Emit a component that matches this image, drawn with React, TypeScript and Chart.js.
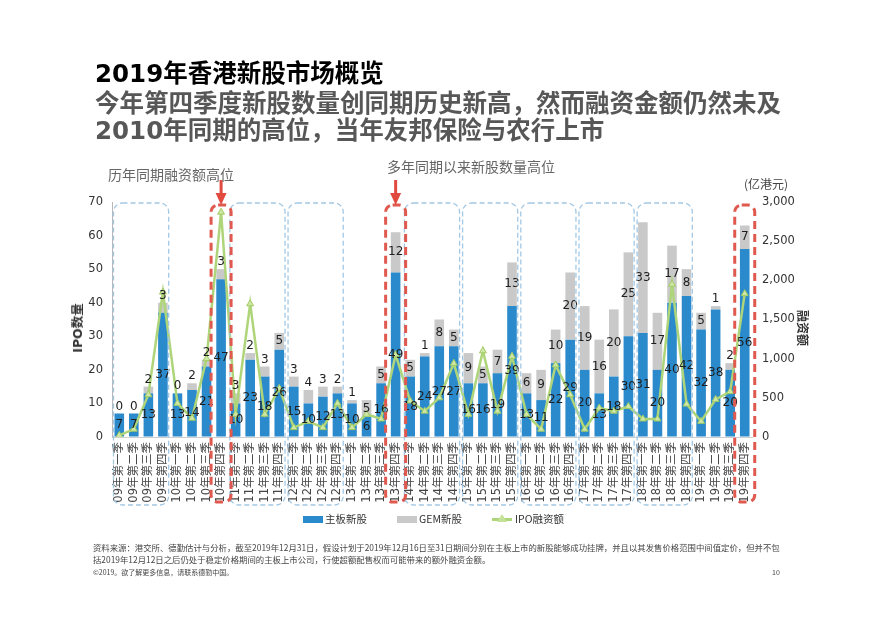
import React, { useEffect, useRef } from 'react';
import { Chart, registerables } from 'chart.js';

Chart.register(...registerables);

const quarterLabels = [
  '09年第一季', '09年第二季', '09年第三季', '09年第四季',
  '10年第一季', '10年第二季', '10年第三季', '10年第四季',
  '11年第一季', '11年第二季', '11年第三季', '11年第四季',
  '12年第一季', '12年第二季', '12年第三季', '12年第四季',
  '13年第一季', '13年第二季', '13年第三季', '13年第四季',
  '14年第一季', '14年第二季', '14年第三季', '14年第四季',
  '15年第一季', '15年第二季', '15年第三季', '15年第四季',
  '16年第一季', '16年第二季', '16年第三季', '16年第四季',
  '17年第一季', '17年第二季', '17年第三季', '17年第四季',
  '18年第一季', '18年第二季', '18年第三季', '18年第四季',
  '19年第一季', '19年第二季', '19年第三季', '19年第四季',
];

const mainBoard = [
  7, 7, 13, 37,
  13, 14, 21, 47,
  10, 23, 18, 26,
  15, 10, 12, 13,
  10, 6, 16, 49,
  18, 24, 27, 27,
  16, 16, 19, 39,
  13, 11, 22, 29,
  20, 13, 18, 30,
  31, 20, 40, 42,
  32, 38, 20, 56,
];

const gemBoard = [
  0, 0, 2, 3,
  0, 2, 2, 3,
  3, 2, 3, 5,
  3, 4, 3, 2,
  1, 5, 5, 12,
  5, 1, 8, 5,
  9, 5, 7, 13,
  6, 9, 10, 20,
  19, 16, 20, 25,
  33, 17, 17, 8,
  5, 1, 2, 7,
];

const ipoAmount = [
  20, 100, 540, 1850,
  430, 240, 1000, 2870,
  290, 1700, 290, 620,
  120, 200, 120, 430,
  120, 290, 230, 1050,
  460, 330, 500, 940,
  290, 1100, 330, 1030,
  290, 100, 920, 540,
  100, 370, 330, 390,
  230, 230, 1950, 420,
  200, 480, 580, 1830,
];

const leftTicks = [0, 10, 20, 30, 40, 50, 60, 70];
const rightTicks = [0, 500, 1000, 1500, 2000, 2500, 3000];

const boxedYears = ['09', '11', '12', '14', '15', '16', '17', '18'];
const highlightQuarters = ['10年第四季', '13年第四季', '19年第四季'];
const arrowQuarters = ['10年第四季', '13年第四季'];

const seriesNames = ['主板新股', 'GEM新股', 'IPO融资额'];

const BLUE = '#2B8ACB';
const GRAY = '#C9C9C9';
const GREEN = '#AFD57A';
const FONT = '"DejaVu Sans", "Noto Sans CJK SC", sans-serif';
const CJK = '"Noto Sans CJK SC", sans-serif';

const labelPlugin = {
  id: 'barLabels',
  afterDatasetsDraw(chart: any) {
    const ctx = chart.ctx;
    ctx.save();
    ctx.font = `12px ${FONT}`;
    ctx.fillStyle = '#1e1e1e';
    ctx.textAlign = 'center';
    ctx.textBaseline = 'middle';
    const mMain = chart.getDatasetMeta(1);
    const mGem = chart.getDatasetMeta(2);
    mMain.data.forEach((el: any, i: number) => {
      const p = el.getProps(['x', 'y', 'base'], true);
      ctx.fillText(String(mainBoard[i]), p.x, (p.y + p.base) / 2);
    });
    mGem.data.forEach((el: any, i: number) => {
      const p = el.getProps(['x', 'y', 'base'], true);
      const h = p.base - p.y;
      const yy = h >= 15 ? (p.y + p.base) / 2 : p.y - 7;
      ctx.fillText(String(gemBoard[i]), p.x, yy);
    });
    ctx.restore();
  },
};

const overlayPlugin = {
  id: 'overlayBoxes',
  afterDraw(chart: any) {
    const { ctx, chartArea } = chart;
    const xs = chart.scales.x;
    const step = xs.getPixelForValue(1) - xs.getPixelForValue(0);
    const top = chartArea.top + 1;
    const bottom = chartArea.bottom + 68;
    ctx.save();
    ctx.strokeStyle = '#A3C8E4';
    ctx.lineWidth = 1.3;
    ctx.setLineDash([5, 3]);
    boxedYears.forEach((yr) => {
      const idx: number[] = [];
      quarterLabels.forEach((l, i) => { if (l.startsWith(yr)) idx.push(i); });
      const l = xs.getPixelForValue(idx[0]) - step / 2 + 1.5;
      const r = xs.getPixelForValue(idx[idx.length - 1]) + step / 2 - 1.5;
      ctx.beginPath();
      ctx.roundRect(l, top, r - l, bottom - top, 9);
      ctx.stroke();
    });
    ctx.strokeStyle = '#E0594F';
    ctx.lineWidth = 3;
    ctx.setLineDash([8, 5]);
    highlightQuarters.forEach((q) => {
      const cx = xs.getPixelForValue(quarterLabels.indexOf(q));
      ctx.beginPath();
      ctx.roundRect(cx - 10, top + 2, 20, bottom - top - 5, 7);
      ctx.stroke();
    });
    ctx.setLineDash([]);
    ctx.fillStyle = '#E04A3F';
    arrowQuarters.forEach((q) => {
      const cx = xs.getPixelForValue(quarterLabels.indexOf(q));
      const y0 = chartArea.top - 22;
      ctx.fillRect(cx - 1.5, y0, 3, 14);
      ctx.beginPath();
      ctx.moveTo(cx - 5.5, y0 + 13);
      ctx.lineTo(cx + 5.5, y0 + 13);
      ctx.lineTo(cx, y0 + 25);
      ctx.closePath();
      ctx.fill();
    });
    ctx.restore();
  },
};

function ChartCanvas() {
  const ref = useRef<HTMLCanvasElement | null>(null);
  useEffect(() => {
    if (!ref.current) return;
    const chart = new Chart(ref.current, {
      type: 'bar',
      data: {
        labels: quarterLabels,
        datasets: [
          {
            type: 'line',
            label: seriesNames[2],
            data: ipoAmount,
            yAxisID: 'y1',
            borderColor: GREEN,
            borderWidth: 2.5,
            pointStyle: 'triangle',
            pointRadius: 4,
            pointBackgroundColor: '#CFE7A6',
            pointBorderColor: '#9FCB62',
            pointBorderWidth: 1,
            tension: 0,
            order: 0,
          } as any,
          {
            type: 'bar',
            label: seriesNames[0],
            data: mainBoard,
            backgroundColor: BLUE,
            yAxisID: 'y',
            stack: 's',
            categoryPercentage: 0.66,
            barPercentage: 1,
            order: 1,
          },
          {
            type: 'bar',
            label: seriesNames[1],
            data: gemBoard,
            backgroundColor: GRAY,
            yAxisID: 'y',
            stack: 's',
            categoryPercentage: 0.66,
            barPercentage: 1,
            order: 1,
          },
        ],
      },
      options: {
        animation: false,
        responsive: false,
        devicePixelRatio: 1,
        layout: { padding: { left: 82, right: 75, top: 202, bottom: 113 } },
        plugins: {
          legend: { display: false },
          tooltip: { enabled: false },
        },
        scales: {
          x: {
            stacked: true,
            offset: true,
            grid: { display: true, drawOnChartArea: false, drawTicks: false },
            border: { display: true, color: '#cfcfcf' },
            ticks: {
              autoSkip: false,
              minRotation: 90,
              maxRotation: 90,
              padding: 5,
              color: '#444',
              font: { size: 11.5, family: FONT },
            },
            afterFit: (s: any) => { s.height = 70; },
          },
          y: {
            stacked: true,
            position: 'left',
            min: leftTicks[0],
            max: leftTicks[leftTicks.length - 1],
            afterBuildTicks: (s: any) => { s.ticks = leftTicks.map((v) => ({ value: v })); },
            grid: { display: true, drawOnChartArea: false, drawTicks: false },
            border: { display: true, color: '#b8b8b8' },
            ticks: { padding: 9, color: '#333', font: { size: 11.5, family: FONT } },
            afterFit: (s: any) => { s.width = 30; },
          },
          y1: {
            position: 'right',
            min: rightTicks[0],
            max: rightTicks[rightTicks.length - 1],
            afterBuildTicks: (s: any) => { s.ticks = rightTicks.map((v) => ({ value: v })); },
            grid: { display: false, drawOnChartArea: false, drawTicks: false },
            border: { display: false },
            ticks: {
              padding: 10,
              color: '#333',
              font: { size: 11.5, family: FONT },
              callback: (v: any) => Number(v).toLocaleString('en-US'),
            },
            afterFit: (s: any) => { s.width = 50; },
          },
        },
      } as any,
      plugins: [labelPlugin, overlayPlugin],
    });
    return () => chart.destroy();
  }, []);
  return <canvas ref={ref} width={877} height={620} style={{ display: 'block', position: 'absolute', left: 0, top: 0 }} />;
}

const abs = (o: any) => ({ position: 'absolute' as const, whiteSpace: 'nowrap' as const, ...o });

export default function App() {
  return (
    <div style={{ position: 'absolute', left: 0, top: 0, width: 877, height: 620, background: '#fff', overflow: 'hidden', fontFamily: FONT }}>
      <ChartCanvas />
      <div style={abs({ left: 95, top: 60, fontSize: 24.5, lineHeight: '28px', fontWeight: 'bold', color: '#000' })}>2019年香港新股市场概览</div>
      <div style={abs({ left: 95, top: 90, fontSize: 24.5, lineHeight: '28px', fontWeight: 'bold', color: '#575757' })}>今年第四季度新股数量创同期历史新高，然而融资金额仍然未及</div>
      <div style={abs({ left: 95, top: 117, fontSize: 24.5, lineHeight: '28px', fontWeight: 'bold', color: '#575757' })}>2010年同期的高位，当年友邦保险与农行上市</div>

      <div style={abs({ left: 108, top: 165, fontSize: 14, lineHeight: '18px', color: '#666', fontFamily: CJK })}>历年同期融资额高位</div>
      <div style={abs({ left: 387, top: 157, fontSize: 14, lineHeight: '18px', color: '#666', fontFamily: CJK })}>多年同期以来新股数量高位</div>
      <div style={abs({ left: 744, top: 176, fontSize: 12, lineHeight: '16px', color: '#444', fontFamily: CJK })}>(亿港元)</div>

      <div style={abs({ left: 78, top: 328, fontSize: 12.5, fontWeight: 'bold', color: '#333', transform: 'translate(-50%, -50%) rotate(-90deg)', lineHeight: '14px' })}>IPO数量</div>
      <div style={abs({ left: 803, top: 328, fontSize: 12, fontWeight: 'bold', color: '#333', transform: 'translate(-50%, -50%) rotate(90deg)', lineHeight: '14px', fontFamily: CJK })}>融资额</div>

      <div style={abs({ left: 303, top: 516, width: 20, height: 7, background: BLUE })} />
      <div style={abs({ left: 325, top: 512, fontSize: 10.5, lineHeight: '14px', color: '#333', fontFamily: CJK })}>{seriesNames[0]}</div>
      <div style={abs({ left: 397, top: 516, width: 20, height: 7, background: GRAY })} />
      <div style={abs({ left: 419, top: 512, fontSize: 10.5, lineHeight: '14px', color: '#333', fontFamily: CJK })}>{seriesNames[1]}</div>
      <div style={abs({ left: 492, top: 518, width: 20, height: 3, background: GREEN })} />
      <div style={abs({ left: 497, top: 514, width: 0, height: 0, borderLeft: '5px solid transparent', borderRight: '5px solid transparent', borderBottom: '8px solid #C5E29A' })} />
      <div style={abs({ left: 515, top: 512, fontSize: 10.5, lineHeight: '14px', color: '#333', fontFamily: CJK })}>{seriesNames[2]}</div>

      <div style={abs({ left: 93, top: 541, fontSize: 8.4, lineHeight: '12px', color: '#444', fontFamily: CJK })}>资料来源：港交所、德勤估计与分析，截至2019年12月31日，假设计划于2019年12月16日至31日期间分别在主板上市的新股能够成功挂牌，并且以其发售价格范围中间值定价，但并不包</div>
      <div style={abs({ left: 93, top: 553, fontSize: 8.4, lineHeight: '12px', color: '#444', fontFamily: CJK })}>括2019年12月12日之后仍处于稳定价格期间的主板上市公司，行使超额配售权而可能带来的额外融资金额。</div>
      <div style={abs({ left: 93, top: 567, fontSize: 7, lineHeight: '10px', color: '#444', fontFamily: CJK })}>©2019。欲了解更多信息，请联系德勤中国。</div>
      <div style={abs({ left: 772, top: 567, fontSize: 7, lineHeight: '10px', color: '#444', fontFamily: CJK })}>10</div>
    </div>
  );
}
